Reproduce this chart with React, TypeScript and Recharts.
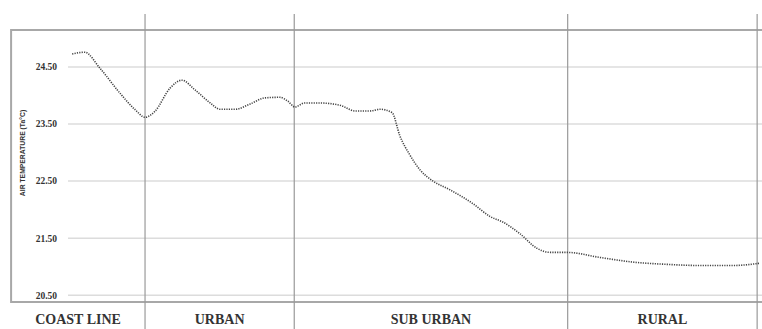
import React from "react";
import {
  LineChart,
  Line,
  XAxis,
  YAxis,
  CartesianGrid,
  ReferenceLine,
  ReferenceArea,
} from "recharts";

// position along the transect (% of plotted width) and air temperature
const positions = [
  0.6, 2.4, 4.6, 7.5, 9.7, 11.1, 12.5, 14.7, 16.4, 18.3, 20.5, 21.9, 24.1,
  26.2, 28.4, 30.5, 31.7, 32.7, 34.1, 36.3, 39.2, 41.4, 43.5, 45.0, 46.7,
  47.8, 49.3, 50.7, 52.6, 55.0, 58.4, 60.8, 62.7, 65.1, 67.6, 69.5, 71.9,
  76.7, 81.4, 86.3, 91.1, 95.8, 99.7,
];
const temperatures = [
  24.73, 24.76, 24.48, 24.04, 23.75, 23.62, 23.72, 24.13, 24.27, 24.1, 23.87,
  23.76, 23.76, 23.85, 23.96, 23.97, 23.9, 23.8, 23.87, 23.87, 23.83, 23.73,
  23.73, 23.76, 23.7, 23.3, 22.95, 22.7, 22.5, 22.35, 22.1, 21.88, 21.78,
  21.58, 21.32, 21.25, 21.25, 21.16, 21.08, 21.04, 21.02, 21.02, 21.06,
];

const zones = ["COAST LINE", "URBAN", "SUB URBAN", "RURAL"];
const zoneBounds = [-8.2, 11.1, 32.6, 72.0, 99.3];
const yTicks = [20.5, 21.5, 22.5, 23.5, 24.5];

const data = positions.map((p, i) => ({ pos: p, temp: temperatures[i] }));
const zoneCenters = zones.map((_, i) => (zoneBounds[i] + zoneBounds[i + 1]) / 2);

const Y_MIN = 20.38;
const Y_MAX = 25.15;

const ZoneTick = (props: any) => {
  const { x, y, index } = props;
  return (
    <text
      x={x}
      y={y}
      dy={10}
      textAnchor="middle"
      fontFamily="'Liberation Serif', 'DejaVu Serif', serif"
      fontWeight="bold"
      fontSize={14}
      fill="#333"
    >
      {zones[index]}
    </text>
  );
};

const AxisTitle = (props: any) => {
  const vb = props.viewBox;
  const cx = vb.x + 22;
  const cy = vb.y + vb.height / 2 - 13;
  return (
    <text
      x={cx}
      y={cy}
      transform={`rotate(-90 ${cx} ${cy})`}
      textAnchor="middle"
      dominantBaseline="central"
      fontFamily="'Liberation Sans', Arial, sans-serif"
      fontWeight="bold"
      fontSize={6.8}
      fill="#333"
    >
      AIR TEMPERATURE (Ta°C)
    </text>
  );
};

export default function App() {
  return (
    <div style={{ position: "absolute", left: 0, top: 0, background: "#fff" }}>
      <LineChart
        width={762}
        height={329}
        data={data}
        margin={{ top: 30, right: 0, bottom: 0, left: 0 }}
      >
        <CartesianGrid
          vertical={false}
          stroke="#dcdcdc"
          strokeWidth={1.5}
        />
        <ReferenceArea
          x1={zoneBounds[0]}
          x2={101}
          y1={Y_MIN}
          y2={Y_MAX}
          ifOverflow="visible"
          fill="none"
          stroke="#a8a8a8"
          strokeWidth={2}
        />
        <XAxis
          dataKey="pos"
          type="number"
          domain={[0, 100]}
          ticks={zoneCenters}
          tick={<ZoneTick />}
          axisLine={false}
          tickLine={false}
          height={27}
          tickMargin={6}
          allowDataOverflow
        />
        <YAxis
          type="number"
          domain={[Y_MIN, Y_MAX]}
          ticks={yTicks}
          tickFormatter={(v: number) => v.toFixed(2)}
          axisLine={false}
          tickLine={false}
          tickSize={0}
          tickMargin={11}
          width={68}
          tick={{
            fontSize: 9.5,
            fontWeight: "bold",
            fill: "#333",
            fontFamily: "'Liberation Serif', serif",
          }}
          label={<AxisTitle />}
          allowDataOverflow
        />
        {zoneBounds.slice(1).map((b) => (
          <ReferenceLine
            key={b}
            segment={[
              { x: b, y: 25.43 },
              { x: b, y: 19.9 },
            ]}
            ifOverflow="visible"
            stroke="#9a9a9a"
            strokeWidth={1.2}
          />
        ))}
        <Line
          type="monotone"
          dataKey="temp"
          stroke="#444"
          strokeWidth={1.6}
          strokeDasharray="1.2 1.2"
          dot={false}
          isAnimationActive={false}
        />
      </LineChart>
    </div>
  );
}
